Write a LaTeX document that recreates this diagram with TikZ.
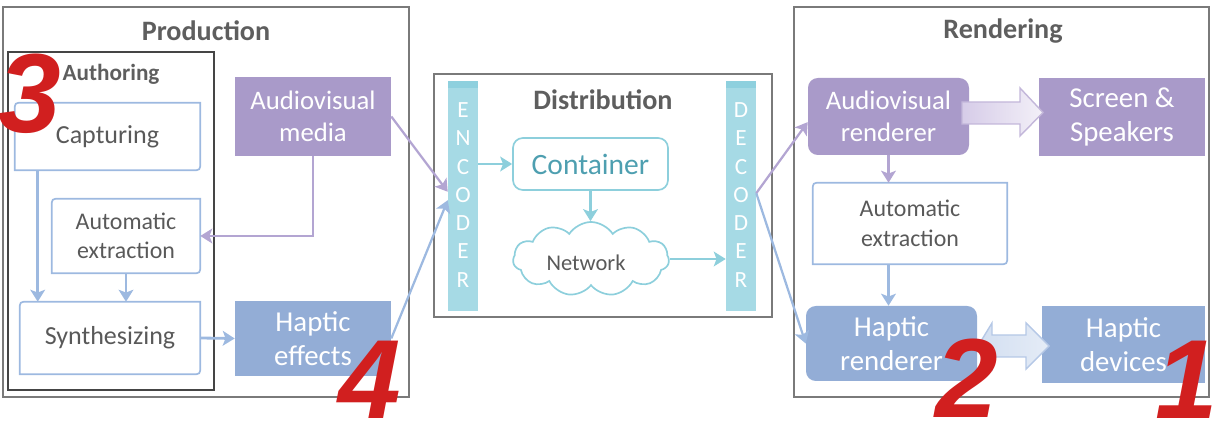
\documentclass[tikz,border=0pt]{standalone}
\usepackage{fontspec}
\setmainfont{Carlito}
\newfontfamily\digitfont{Liberation Sans}
\usetikzlibrary{fit,shapes.symbols,arrows.meta,calc}
\definecolor{avpurple}{HTML}{A99AC9}
\definecolor{hblue}{HTML}{93ADD6}
\definecolor{lblue}{HTML}{9DB9E0}
\definecolor{lpurple}{HTML}{B3A5D2}
\definecolor{cyanbar}{HTML}{A6DAE5}
\definecolor{cyantop}{HTML}{8ED0DE}
\definecolor{cyanline}{HTML}{8DCFDC}
\definecolor{contxt}{HTML}{4E9FB0}
\definecolor{framegray}{HTML}{7A7A7A}
\definecolor{authgray}{HTML}{454545}
\definecolor{titlegray}{HTML}{5E5E5E}
\definecolor{txtgray}{HTML}{595959}
\definecolor{digitred}{HTML}{D11F1F}
\definecolor{pfillA}{HTML}{D6CCE8}
\definecolor{pfillB}{HTML}{F3F0F8}
\definecolor{pborder}{HTML}{C3B7DA}
\definecolor{bfillA}{HTML}{D3DFF1}
\definecolor{bborder}{HTML}{B5C8E6}
\newcommand\diagoutline[1]{%
  \draw[draw=lblue, line width=1.2pt] (#1.north east) -- ([xshift=6pt]#1.north west)
    .. controls (#1.north west) .. ([yshift=-6pt]#1.north west) -- (#1.south west)
    -- ([xshift=-6pt]#1.south east) .. controls (#1.south east) .. ([yshift=6pt]#1.south east) -- cycle;}
\begin{document}
\begin{tikzpicture}[x=0.025cm,y=-0.025cm,
  frame/.style={draw=framegray, line width=1.4pt, inner sep=0pt},
  authframe/.style={draw=authgray, line width=1.4pt, inner sep=0pt},
  title/.style={font=\bfseries\fontsize{20}{24}\selectfont, text=titlegray, inner sep=0pt},
  wbox/.style={inner sep=0pt, align=center, text=txtgray, font=\fontsize{18.5}{22}\selectfont},
  wsmall/.style={wbox, font=\fontsize{17}{21}\selectfont},
  pbox/.style={fill=avpurple, inner sep=0pt, align=center, text=white, font=\fontsize{19}{23}\selectfont},
  prbox/.style={pbox, rounded corners=7pt},
  bbox/.style={fill=hblue, inner sep=0pt, align=center, text=white, font=\fontsize{20.5}{24.5}\selectfont},
  brbox/.style={bbox, rounded corners=7pt},
  bar/.style={fill=cyanbar, inner sep=0pt},
  barletter/.style={text=white, font=\fontsize{16.5}{16.5}\selectfont, inner sep=0pt},
  conn/.style={line width=2pt, -{Stealth[length=8.5pt,width=10.5pt,inset=2pt]}},
  bconn/.style={conn, draw=lblue},
  pconn/.style={conn, draw=lpurple},
  cconn/.style={conn, draw=cyanline},
  digit/.style={font=\digitfont\bfseries\itshape\fontsize{80}{80}\selectfont, text=digitred, inner sep=0pt}]
\useasboundingbox (0,0) rectangle (1212,438);

% ---------- Production ----------
\node[frame, fit={(3,7) (409,397)}] (prod) {};
\node[title] (prodT) at (206,31) {Production};
\node[authframe, fit={(8,52) (214,390)}] (auth) {};
\node[title, font=\bfseries\fontsize{16.5}{20}\selectfont] (authT) at (111,74) {Authoring};
\node[wbox, fit={(15,103) (200,170)}] (capt) {};
\node[wbox] at (capt.center) {Capturing};
\diagoutline{capt}
\node[wsmall, fit={(52,199) (200,273)}] (autoL) {};
\node[wsmall] at (autoL.center) {Automatic\\extraction};
\diagoutline{autoL}
\node[wbox, fit={(20,302) (200,374)}] (synth) {};
\node[wbox] at (synth.center) {Synthesizing};
\diagoutline{synth}
\node[pbox, fit={(235,77) (391,156)}] (avmed) {};
\node[pbox] at (avmed.center) {Audiovisual\\media};
\node[bbox, fit={(235,301) (391,376)}] (hapeff) {};
\node[bbox] at (hapeff.center) {Haptic\\effects};

% ---------- Distribution ----------
\node[frame, fit={(434,74) (772,317)}] (dist) {};
\node[title] (distT) at (603,100) {Distribution};
\node[bar, fit={(448,81) (478,311)}] (enc) {};
\fill[cyantop] (enc.north west) rectangle ([yshift=-5pt]enc.north east);
\node[bar, fit={(726,81) (756,311)}] (dec) {};
\fill[cyantop] (dec.north west) rectangle ([yshift=-5pt]dec.north east);
\foreach \l [count=\i] in {E,N,C,O,D,E,R}
  \node[barletter] (encL\i) at (463,{110+28.3*(\i-1)}) {\l};
\foreach \l [count=\i] in {D,E,C,O,D,E,R}
  \node[barletter] (decL\i) at (741,{110+28.3*(\i-1)}) {\l};
\node[draw=cyanline, line width=1.2pt, rounded corners=7pt, inner sep=0pt, fit={(513,138) (668,190)}] (cont) {};
\node[text=contxt, font=\fontsize{21}{25}\selectfont, inner sep=0pt] at (cont.center) {Container};
\node[cloud, cloud puffs=11, cloud puff arc=115, draw=cyanline, line width=1.2pt, aspect=2.1,
      minimum width=3.9cm, minimum height=1.85cm, inner sep=0pt] (net) at (591,259) {};
\node[text=txtgray, font=\fontsize{16}{19}\selectfont, inner sep=0pt] at (586,263) {Network};

% ---------- Rendering ----------
\node[frame, fit={(794,7) (1209,397)}] (rend) {};
\node[title] (rendT) at (1003,31) {Rendering};
\node[prbox, fit={(808,78) (969,155)}] (avrend) {};
\node[pbox] at (avrend.center) {Audiovisual\\renderer};
\node[pbox, font=\fontsize{20.5}{24.5}\selectfont, fit={(1039,78) (1205,156)}] (screen) {};
\node[pbox, font=\fontsize{20.5}{24.5}\selectfont] at (screen.center) {Screen \&\\Speakers};
\node[wsmall, fit={(813,183) (1007,264)}] (autoR) {};
\node[wsmall] at (autoR.center) {Automatic\\extraction};
\diagoutline{autoR}
\node[brbox, fit={(806,306) (977,381)}] (haprend) {};
\node[bbox] at (haprend.center) {Haptic\\renderer};
\node[bbox, fit={(1042,306) (1205,383)}] (hapdev) {};
\node[bbox] at (hapdev.center) {Haptic\\devices};

% block arrows
\path[draw=pborder, line width=1pt, left color=pfillA, right color=pfillB]
  (962,102) -- (1020,102) -- (1020,88) -- (1043,112.5) -- (1020,136) -- (1020,124) -- (962,124) -- cycle;
\path[draw=bborder, line width=1pt, left color=bfillA, right color=bfillA!60!white]
  (978,346) -- (992,323) -- (992,335) -- (1026,335) -- (1026,323) -- (1049,346)
  -- (1026,369) -- (1026,357) -- (992,357) -- (992,369) -- cycle;

% ---------- connectors ----------
\draw[bconn] ([xshift=0.575cm]capt.south west) -- ([xshift=0.575cm]capt.south west |- synth.north);
\draw[bconn] (autoL.south) -- (autoL.south |- synth.north);
\draw[bconn] (synth.east) -- (hapeff.west);
\draw[pconn] (avmed.south) |- (autoL.east);
\draw[pconn, line width=1.6pt] (avmed.east) -- ([yshift=3pt]enc.west);
\draw[bconn, line width=1.6pt] (hapeff.east) -- ([yshift=-3pt]enc.west);
\draw[cconn] (enc.east |- cont.west) -- (cont.west);
\draw[cconn] (cont.south) -- (cont.south |- net.north);
\draw[cconn] (net.east) -- (net.east -| dec.west);
\draw[pconn, line width=1.6pt] ([yshift=2pt]dec.east) -- ([yshift=-4pt]avrend.west);
\draw[bconn, line width=1.6pt] ([yshift=2pt]dec.east) -- (haprend.west);
\draw[pconn] (avrend.south) -- (avrend.south |- autoR.north);
\draw[bconn] (avrend.south |- autoR.south) -- (avrend.south |- haprend.north);

% ---------- red numbers ----------
\node[digit] (n3) at (30,94) {3};
\node[digit] (n4) at (370,380) {4};
\node[digit] (n2) at (967,378) {2};
\node[digit] (n1) at (1187,380) {1};
\end{tikzpicture}
\end{document}
